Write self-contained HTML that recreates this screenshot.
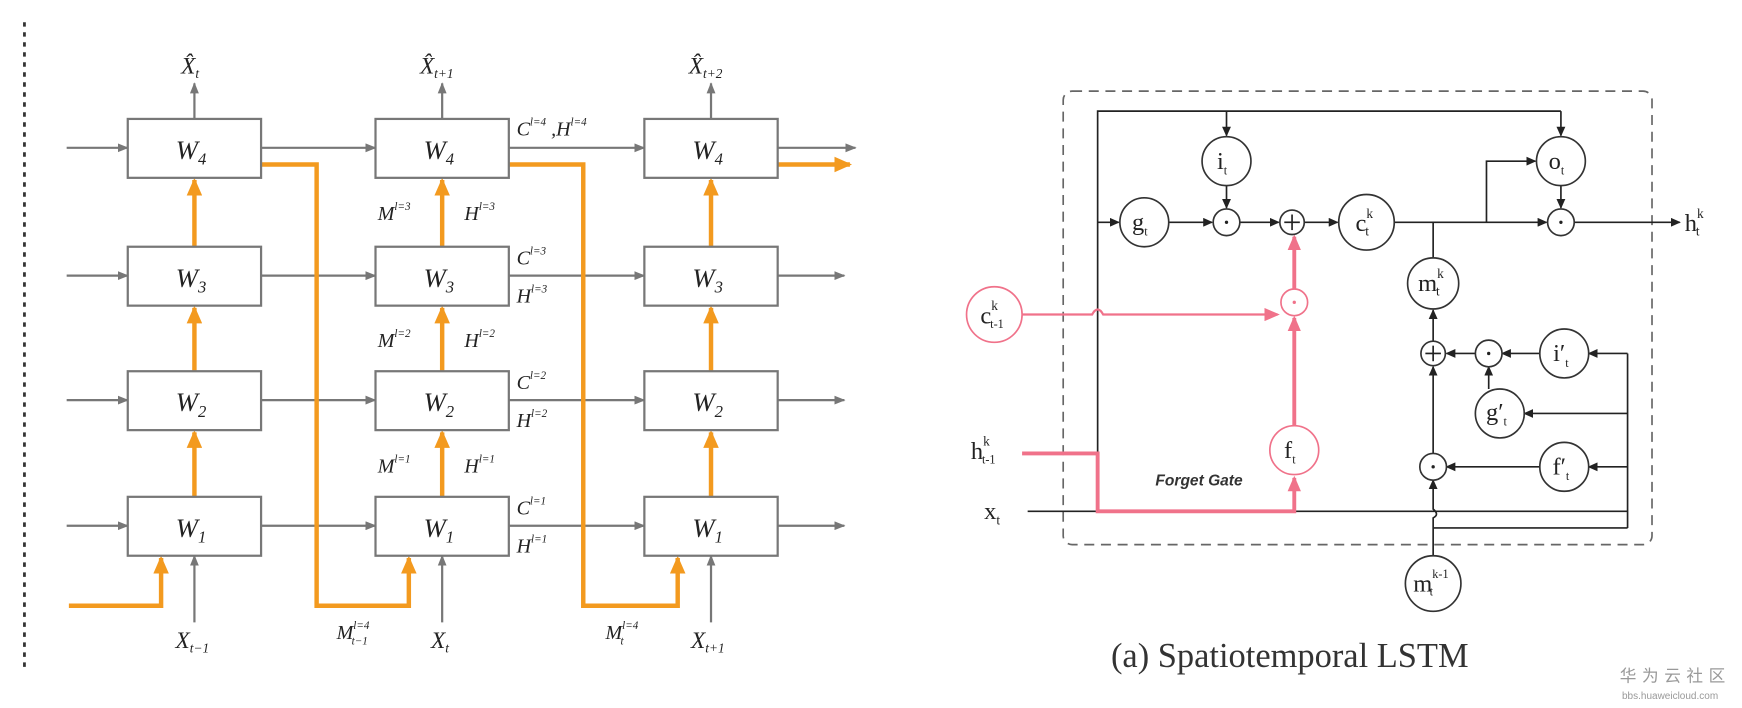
<!DOCTYPE html>
<html><head><meta charset="utf-8"><style>html,body{margin:0;padding:0;background:#fff}svg{display:block}</style></head>
<body>
<svg width="1742" height="708" viewBox="0 0 1568 637" preserveAspectRatio="none" xmlns="http://www.w3.org/2000/svg" font-family="Liberation Serif, serif">
<defs>
<marker id="ag" markerWidth="10" markerHeight="8" refX="9" refY="4" orient="auto" markerUnits="userSpaceOnUse"><path d="M0,0 L10,4 L0,8z" fill="#777"/></marker>
<marker id="ao" markerWidth="16" markerHeight="14" refX="14" refY="7" orient="auto" markerUnits="userSpaceOnUse"><path d="M0,0 L16,7 L0,14z" fill="#f39a1f"/></marker>
<marker id="ak" markerWidth="9" markerHeight="8" refX="8" refY="4" orient="auto" markerUnits="userSpaceOnUse"><path d="M0,0 L9,4 L0,8z" fill="#222"/></marker>
<marker id="ap" markerWidth="14" markerHeight="12" refX="12" refY="6" orient="auto" markerUnits="userSpaceOnUse"><path d="M0,0 L14,6 L0,12z" fill="#f0728a"/></marker>
</defs>
<line x1="22" y1="20" x2="22" y2="605" stroke="#333" stroke-width="2.5" stroke-dasharray="4,5"/>
<g stroke="#777" stroke-width="2" fill="none" marker-end="url(#ag)">
<line x1="60" y1="133" x2="115" y2="133"/><line x1="60" y1="248" x2="115" y2="248"/><line x1="60" y1="360" x2="115" y2="360"/><line x1="60" y1="473" x2="115" y2="473"/>
<line x1="235" y1="133" x2="338" y2="133"/><line x1="235" y1="248" x2="338" y2="248"/><line x1="235" y1="360" x2="338" y2="360"/><line x1="235" y1="473" x2="338" y2="473"/>
<line x1="458" y1="133" x2="580" y2="133"/><line x1="458" y1="248" x2="580" y2="248"/><line x1="458" y1="360" x2="580" y2="360"/><line x1="458" y1="473" x2="580" y2="473"/>
<line x1="700" y1="133" x2="770" y2="133"/><line x1="700" y1="248" x2="760" y2="248"/><line x1="700" y1="360" x2="760" y2="360"/><line x1="700" y1="473" x2="760" y2="473"/>
<line x1="175" y1="107" x2="175" y2="75"/><line x1="398" y1="107" x2="398" y2="75"/><line x1="640" y1="107" x2="640" y2="75"/>
<line x1="175" y1="560" x2="175" y2="500"/><line x1="398" y1="560" x2="398" y2="500"/><line x1="640" y1="560" x2="640" y2="500"/>
</g>
<g stroke="#f39a1f" stroke-width="4" fill="none" marker-end="url(#ao)">
<line x1="175" y1="447" x2="175" y2="389"/><line x1="175" y1="334" x2="175" y2="277"/><line x1="175" y1="222" x2="175" y2="162"/>
<line x1="398" y1="447" x2="398" y2="389"/><line x1="398" y1="334" x2="398" y2="277"/><line x1="398" y1="222" x2="398" y2="162"/>
<line x1="640" y1="447" x2="640" y2="389"/><line x1="640" y1="334" x2="640" y2="277"/><line x1="640" y1="222" x2="640" y2="162"/>
<polyline points="62,545 145,545 145,502"/>
<polyline points="235,148 285,148 285,545 368,545 368,502"/>
<polyline points="458,148 525,148 525,545 610,545 610,502"/>
<line x1="700" y1="148" x2="765" y2="148"/>
</g>
<g fill="#fff" stroke="#777" stroke-width="2">
<rect x="115" y="107" width="120" height="53"/><rect x="115" y="222" width="120" height="53"/><rect x="115" y="334" width="120" height="53"/><rect x="115" y="447" width="120" height="53"/>
<rect x="338" y="107" width="120" height="53"/><rect x="338" y="222" width="120" height="53"/><rect x="338" y="334" width="120" height="53"/><rect x="338" y="447" width="120" height="53"/>
<rect x="580" y="107" width="120" height="53"/><rect x="580" y="222" width="120" height="53"/><rect x="580" y="334" width="120" height="53"/><rect x="580" y="447" width="120" height="53"/>
</g>
<g font-style="italic" font-size="24" fill="#222" text-anchor="middle">
<text x="172" y="143">W<tspan font-size="15" dy="5">4</tspan></text><text x="172" y="258">W<tspan font-size="15" dy="5">3</tspan></text><text x="172" y="370">W<tspan font-size="15" dy="5">2</tspan></text><text x="172" y="483">W<tspan font-size="15" dy="5">1</tspan></text>
<text x="395" y="143">W<tspan font-size="15" dy="5">4</tspan></text><text x="395" y="258">W<tspan font-size="15" dy="5">3</tspan></text><text x="395" y="370">W<tspan font-size="15" dy="5">2</tspan></text><text x="395" y="483">W<tspan font-size="15" dy="5">1</tspan></text>
<text x="637" y="143">W<tspan font-size="15" dy="5">4</tspan></text><text x="637" y="258">W<tspan font-size="15" dy="5">3</tspan></text><text x="637" y="370">W<tspan font-size="15" dy="5">2</tspan></text><text x="637" y="483">W<tspan font-size="15" dy="5">1</tspan></text>
</g>
<g font-style="italic" font-size="21" fill="#222">
<text x="163" y="66">X̂<tspan font-size="12" dy="4">t</tspan></text>
<text x="378" y="66">X̂<tspan font-size="12" dy="4">t+1</tspan></text>
<text x="620" y="66">X̂<tspan font-size="12" dy="4">t+2</tspan></text>
<text x="158" y="583">X<tspan font-size="12" dy="4">t−1</tspan></text>
<text x="388" y="583">X<tspan font-size="12" dy="4">t</tspan></text>
<text x="622" y="583">X<tspan font-size="12" dy="4">t+1</tspan></text>
<text x="303" y="575" font-size="18">M<tspan font-size="10" dy="-9">l=4</tspan><tspan font-size="10" dx="-16" dy="14">t−1</tspan></text>
<text x="545" y="575" font-size="18">M<tspan font-size="10" dy="-9">l=4</tspan><tspan font-size="10" dx="-16" dy="14">t</tspan></text>
<text x="465" y="122" font-size="18">C<tspan font-size="10" dy="-9">l=4</tspan><tspan dy="9"> ,H</tspan><tspan font-size="10" dy="-9">l=4</tspan></text>
<text x="340" y="198" font-size="18">M<tspan font-size="10" dy="-9">l=3</tspan></text><text x="418" y="198" font-size="18">H<tspan font-size="10" dy="-9">l=3</tspan></text>
<text x="340" y="312" font-size="18">M<tspan font-size="10" dy="-9">l=2</tspan></text><text x="418" y="312" font-size="18">H<tspan font-size="10" dy="-9">l=2</tspan></text>
<text x="340" y="425" font-size="18">M<tspan font-size="10" dy="-9">l=1</tspan></text><text x="418" y="425" font-size="18">H<tspan font-size="10" dy="-9">l=1</tspan></text>
<text x="465" y="238" font-size="18">C<tspan font-size="10" dy="-9">l=3</tspan></text><text x="465" y="272" font-size="18">H<tspan font-size="10" dy="-9">l=3</tspan></text>
<text x="465" y="350" font-size="18">C<tspan font-size="10" dy="-9">l=2</tspan></text><text x="465" y="384" font-size="18">H<tspan font-size="10" dy="-9">l=2</tspan></text>
<text x="465" y="463" font-size="18">C<tspan font-size="10" dy="-9">l=1</tspan></text><text x="465" y="497" font-size="18">H<tspan font-size="10" dy="-9">l=1</tspan></text>
</g>
<!-- right diagram -->
<rect x="957" y="82" width="530" height="408" rx="8" fill="none" stroke="#666" stroke-width="1.5" stroke-dasharray="9,6"/>
<g stroke="#222" stroke-width="1.5" fill="none">
<polyline points="988,460 988,100 1405,100"/>
<line x1="1104" y1="100" x2="1104" y2="122" marker-end="url(#ak)"/>
<line x1="1405" y1="100" x2="1405" y2="122" marker-end="url(#ak)"/>
<line x1="988" y1="200" x2="1007" y2="200" marker-end="url(#ak)"/>
<line x1="1052" y1="200" x2="1091" y2="200" marker-end="url(#ak)"/>
<line x1="1104" y1="167" x2="1104" y2="187" marker-end="url(#ak)"/>
<line x1="1116" y1="200" x2="1151" y2="200" marker-end="url(#ak)"/>
<line x1="1174" y1="200" x2="1204" y2="200" marker-end="url(#ak)"/>
<line x1="1255" y1="200" x2="1392" y2="200" marker-end="url(#ak)"/>
<polyline points="1338,200 1338,145 1382,145" marker-end="url(#ak)"/>
<line x1="1405" y1="167" x2="1405" y2="187" marker-end="url(#ak)"/>
<line x1="1417" y1="200" x2="1512" y2="200" marker-end="url(#ak)"/>
<line x1="1290" y1="200" x2="1290" y2="233"/>
<line x1="1290" y1="307" x2="1290" y2="279" marker-end="url(#ak)"/>
<line x1="1328" y1="318" x2="1302" y2="318" marker-end="url(#ak)"/>
<line x1="1386" y1="318" x2="1352" y2="318" marker-end="url(#ak)"/>
<line x1="1340" y1="350" x2="1340" y2="330" marker-end="url(#ak)"/>
<line x1="1290" y1="408" x2="1290" y2="330" marker-end="url(#ak)"/>
<line x1="1386" y1="420" x2="1302" y2="420" marker-end="url(#ak)"/>
<line x1="1465" y1="318" x2="1430" y2="318" marker-end="url(#ak)"/>
<line x1="1465" y1="372" x2="1372" y2="372" marker-end="url(#ak)"/>
<line x1="1465" y1="420" x2="1430" y2="420" marker-end="url(#ak)"/>
<line x1="1465" y1="318" x2="1465" y2="475"/>
<line x1="925" y1="460" x2="1465" y2="460"/>
<line x1="1290" y1="475" x2="1465" y2="475"/>
<path d="M1290,500 L1290,466 Q1296,463 1290,458 L1290,432" marker-end="url(#ak)"/>
</g>
<g stroke="#f0728a" fill="none">
<polyline points="920,408 988,408 988,460 1165,460 1165,430" stroke-width="3.5" marker-end="url(#ap)"/>
<line x1="1165" y1="383" x2="1165" y2="286" stroke-width="3.5" marker-end="url(#ap)"/>
<line x1="1165" y1="260" x2="1165" y2="213" stroke-width="3.5" marker-end="url(#ap)"/>
<path d="M920,283 L983,283 Q988,274 993,283 L1150,283" stroke-width="2" marker-end="url(#ap)"/>
</g>
<g fill="#fff" stroke="#333" stroke-width="1.5">
<circle cx="1030" cy="200" r="22"/><circle cx="1104" cy="200" r="12"/><circle cx="1163" cy="200" r="11"/><circle cx="1230" cy="200" r="25"/><circle cx="1405" cy="200" r="12"/>
<circle cx="1104" cy="145" r="22"/><circle cx="1405" cy="145" r="22"/>
<circle cx="1290" cy="255" r="23"/><circle cx="1290" cy="318" r="11"/><circle cx="1340" cy="318" r="12"/><circle cx="1408" cy="318" r="22"/>
<circle cx="1350" cy="372" r="22"/><circle cx="1408" cy="420" r="22"/><circle cx="1290" cy="420" r="12"/><circle cx="1290" cy="525" r="25"/>
</g>
<g fill="#fff" stroke="#f0728a" stroke-width="1.5">
<circle cx="1165" cy="405" r="22"/><circle cx="1165" cy="272" r="12"/><circle cx="895" cy="283" r="25"/>
</g>
<g stroke="#222" stroke-width="1.5"><line x1="1156" y1="200" x2="1170" y2="200"/><line x1="1163" y1="193" x2="1163" y2="207"/><line x1="1283" y1="318" x2="1297" y2="318"/><line x1="1290" y1="311" x2="1290" y2="325"/></g>
<g fill="#222" font-size="11" text-anchor="middle">
<circle cx="1104" cy="200" r="1.5"/><circle cx="1405" cy="200" r="1.5"/><circle cx="1340" cy="318" r="1.5"/><circle cx="1290" cy="420" r="1.5"/><circle cx="1165" cy="272" r="1.5" fill="#f0728a"/>
</g>
<g font-size="22" fill="#222" text-anchor="middle">
<text x="1026" y="207">g<tspan font-size="11" dy="5">t</tspan></text>
<text x="1100" y="152">i<tspan font-size="11" dy="5">t</tspan></text>
<text x="1401" y="152">o<tspan font-size="11" dy="5">t</tspan></text>
<text x="1228" y="208">c<tspan font-size="12" dy="-12">k</tspan><tspan font-size="12" dx="-7" dy="16">t</tspan></text>
<text x="1288" y="262">m<tspan font-size="12" dy="-12">k</tspan><tspan font-size="12" dx="-7" dy="16">t</tspan></text>
<text x="1288" y="532">m<tspan font-size="11" dy="-12">k-1</tspan><tspan font-size="11" dx="-17" dy="16">t</tspan></text>
<text x="1405" y="325">i′<tspan font-size="11" dy="5">t</tspan></text>
<text x="1347" y="378">g′<tspan font-size="11" dy="5">t</tspan></text>
<text x="1405" y="427">f′<tspan font-size="11" dy="5">t</tspan></text>
<text x="1161" y="412">f<tspan font-size="11" dy="5">t</tspan></text>
<text x="893" y="291">c<tspan font-size="12" dy="-12">k</tspan><tspan font-size="11" dx="-7" dy="16">t-1</tspan></text>
<text x="1525" y="208">h<tspan font-size="12" dy="-12">k</tspan><tspan font-size="12" dx="-7" dy="16">t</tspan></text>
<text x="885" y="413">h<tspan font-size="12" dy="-12">k</tspan><tspan font-size="11" dx="-7" dy="16">t-1</tspan></text>
<text x="893" y="467">x<tspan font-size="12" dy="5">t</tspan></text>
</g>
<text x="1040" y="437" font-family="Liberation Sans, sans-serif" font-size="14" font-style="italic" font-weight="bold" fill="#333">Forget Gate</text>
<text x="1000" y="600" font-size="31" fill="#333">(a) Spatiotemporal LSTM</text>
<text x="1458" y="613" font-family="Liberation Sans, 'Noto Sans CJK SC', sans-serif" font-size="15" fill="#999" letter-spacing="5">华为云社区</text>
<text x="1460" y="629" font-family="Liberation Sans, sans-serif" font-size="9" fill="#999">bbs.huaweicloud.com</text>
</svg>
</body></html>
